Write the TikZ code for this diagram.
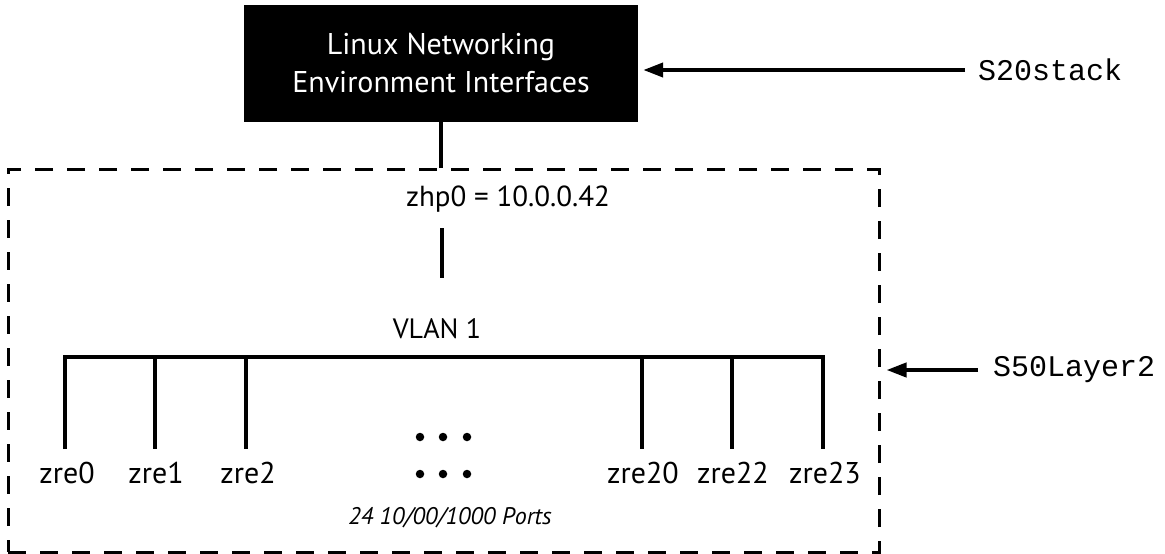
\documentclass[tikz,border=0pt]{standalone}
\usepackage{fontspec}
\setmainfont{PT Sans}
\newfontfamily\monofont{Liberation Mono}
\usetikzlibrary{arrows.meta}
\begin{document}
\begin{tikzpicture}[x=1pt,y=-1pt,
  lbl/.style={inner sep=0pt,font=\fontsize{28}{32}\selectfont},
  port/.style={inner sep=0pt,font=\fontsize{30}{34}\selectfont},
  monolbl/.style={inner sep=0pt,anchor=west,font=\monofont\fontsize{30}{34}\selectfont},
  wire/.style={line width=4.5pt},
  pointer/.style={line width=4pt,-{Triangle[length=20pt,width=14pt]}},
  dashbox/.style={draw,line width=3pt,dash pattern=on 18pt off 14pt,inner sep=0pt},
  dot/.style={circle,fill=black,inner sep=0pt,minimum size=8.5pt}]
\useasboundingbox (0,0) rectangle (1165,554);
% top box
\node[fill=black,text=white,minimum width=394pt,minimum height=117pt,align=center,
      font=\fontsize{30}{38}\selectfont] (box) at (441,63.5) {Linux Networking\\Environment Interfaces};
\node[monolbl] (s20) at (978,70) {S20stack};
\coordinate (s20t) at (965,70);
\draw[pointer] (s20t) -- ([xshift=5pt]box.east |- s20t);
% dashed layer-2 box
\node[dashbox,minimum width=871pt,minimum height=383pt] (l2) at (443.5,360.5) {};
\draw[wire] (box.south) -- (box.south |- l2.north);
\node[lbl,font=\fontsize{29}{32}\selectfont] (zhp) at (508,199) {zhp0 = 10.0.0.42};
\coordinate (up) at (442,228);
\coordinate (dn) at (442,278);
\draw[wire] (up) -- (dn);
\node[lbl] (vlan) at (437,329) {VLAN 1};
% bus
\coordinate (b0) at (65,357);
\coordinate (b1) at (155,357);
\coordinate (b2) at (246,357);
\coordinate (b20) at (642,357);
\coordinate (b22) at (732,357);
\coordinate (b23) at (823,357);
\coordinate (e0) at (65,449);
\coordinate (e1) at (155,449);
\coordinate (e2) at (246,449);
\coordinate (e20) at (642,449);
\coordinate (e22) at (732,449);
\coordinate (e23) at (823,449);
\draw[wire,line join=miter] (e0) -- (b0) -- (b23) -- (e23);
\foreach \n in {1,2,20,22} \draw[wire] (b\n) -- (e\n);
\node[port] (z0) at (67,473) {zre0};
\node[port] (z1) at (156,473) {zre1};
\node[port] (z2) at (248,473) {zre2};
\node[port] (z20) at (643,473) {zre20};
\node[port] (z22) at (733,473) {zre22};
\node[port] (z23) at (825,473) {zre23};
% dots
\foreach \x [count=\i] in {420,443,467} {
  \node[dot] (da\i) at (\x,437) {};
  \node[dot] (db\i) at (\x,474) {};
}
\node[inner sep=0pt,font=\itshape\fontsize{24}{28}\selectfont] (ports) at (450,518) {24 10/00/1000 Ports};
% S50 label
\node[monolbl] (s50) at (993,370) {S50Layer2};
\coordinate (s50t) at (978,370);
\draw[pointer] (s50t) -- ([xshift=6pt]l2.east |- s50t);
\end{tikzpicture}
\end{document}
